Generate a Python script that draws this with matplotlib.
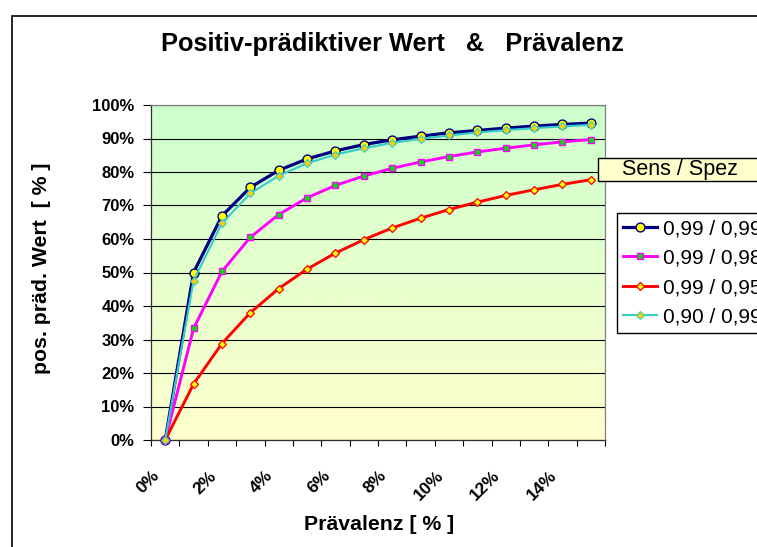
import numpy as np
import matplotlib
matplotlib.use('Agg')
import matplotlib.pyplot as plt
from matplotlib.patches import Rectangle
from matplotlib.colors import LinearSegmentedColormap

plt.rcParams['font.family'] = ['Liberation Sans', 'DejaVu Sans']

# Prävalenz 0 % .. 15 %, eine Kategorie pro Prozent
kategorien = ['0%', '1%', '2%', '3%', '4%', '5%', '6%', '7%',
              '8%', '9%', '10%', '11%', '12%', '13%', '14%', '15%']
x_labels = ['0%', '2%', '4%', '6%', '8%', '10%', '12%', '14%']
y_labels = ['0%', '10%', '20%', '30%', '40%', '50%', '60%', '70%', '80%', '90%', '100%']

# positiv-prädiktiver Wert (Anteil)
ppv_99_99 = [0.000, 0.500, 0.669, 0.754, 0.805, 0.839, 0.863, 0.882,
             0.896, 0.907, 0.917, 0.924, 0.931, 0.937, 0.942, 0.946]
ppv_99_98 = [0.000, 0.333, 0.503, 0.605, 0.673, 0.723, 0.760, 0.788,
             0.811, 0.830, 0.846, 0.860, 0.871, 0.881, 0.890, 0.897]
ppv_99_95 = [0.000, 0.167, 0.288, 0.380, 0.452, 0.510, 0.558, 0.598,
             0.633, 0.662, 0.688, 0.710, 0.730, 0.747, 0.763, 0.777]
ppv_90_99 = [0.000, 0.476, 0.647, 0.736, 0.789, 0.826, 0.852, 0.871,
             0.887, 0.899, 0.909, 0.918, 0.925, 0.931, 0.936, 0.941]

serien = [
    ('0,99 / 0,99', ppv_99_99, dict(color='#000080', lw=2.3, marker='o', ms=6.4,
                                    mfc='#FFFF00', mec='#000080', mew=1.0)),
    ('0,99 / 0,98', ppv_99_98, dict(color='#FF00FF', lw=2.1, marker='s', ms=4.6,
                                    mfc='#00E000', mec='#FF00FF', mew=1.0)),
    ('0,99 / 0,95', ppv_99_95, dict(color='#FF0000', lw=2.1, marker='D', ms=4.0,
                                    mfc='#FFFF00', mec='#FF0000', mew=0.9)),
    ('0,90 / 0,99', ppv_90_99, dict(color='#33CCCC', lw=1.5, marker='D', ms=3.8,
                                    mfc='#FFCC00', mec='#33CCCC', mew=0.8)),
]

W, H = 757, 547
fig = plt.figure(figsize=(W / 100, H / 100), dpi=100)
ax = fig.add_axes([151 / W, 1 - 440 / H, 454 / W, 335 / H])

# Hintergrundverlauf grün -> gelb
bg = LinearSegmentedColormap.from_list('bg', ['#CCFFCC', '#FFFFCC'])
ax.imshow(np.linspace(0, 1, 256).reshape(-1, 1), cmap=bg, extent=(0, 1, 0, 1),
          transform=ax.transAxes, aspect='auto', zorder=-1)

x = np.arange(len(kategorien))
for name, werte, stil in serien:
    ax.plot(x, werte, label=name, zorder=3, clip_on=False, **stil)

ax.set_xlim(-0.5, len(kategorien) - 0.5)
ax.set_ylim(0, 1)

ax.set_yticks(np.linspace(0, 1, len(y_labels)))
ax.set_yticklabels(y_labels, fontsize=12, fontweight='bold')
ax.yaxis.grid(True, color='black', lw=0.8)
ax.set_axisbelow(True)

ax.set_xticks(np.arange(-0.5, len(kategorien), 1))
ax.set_xticklabels([])
ax.tick_params(axis='y', direction='out', length=5.8, width=0.8, pad=6)
ax.tick_params(axis='x', direction='out', length=4.3, width=0.8)

for i, lab in enumerate(x_labels):
    ax.text(2 * i - 0.28, -0.1, lab, transform=ax.get_xaxis_transform(),
            rotation=45, ha='right', va='center', rotation_mode='anchor',
            fontsize=12.5, fontweight='bold')

for s in ['top', 'right']:
    ax.spines[s].set_color('#808080')
for s in ['left', 'bottom']:
    ax.spines[s].set_color('#303030')
for s in ax.spines.values():
    s.set_linewidth(0.9)

fig.text(392 / W, 1 - 51 / H, 'Positiv-prädiktiver Wert   &   Prävalenz',
         ha='center', va='baseline', fontsize=18.3, fontweight='bold')
fig.text(379 / W, 1 - 530 / H, 'Prävalenz [ % ]', ha='center', va='baseline',
         fontsize=15.3, fontweight='bold')
fig.text(42 / W, 1 - 268 / H, 'pos. präd. Wert  [ % ]', ha='center', va='center',
         rotation=90, fontsize=15.3, fontweight='bold')

leg = ax.legend(loc='upper left', bbox_to_anchor=(617 / W, 1 - 213 / H),
                bbox_transform=fig.transFigure, fontsize=15, frameon=True,
                fancybox=False, edgecolor='black', framealpha=1,
                handlelength=1.6, handletextpad=0.3, borderpad=0.3,
                labelspacing=0.5, borderaxespad=0)
leg.get_frame().set_linewidth(1.0)

# Kasten "Sens / Spez"
fig.add_artist(Rectangle((598 / W, 1 - 181 / H), 200 / W, 23 / H,
                         transform=fig.transFigure, fc='#FFFFCC', ec='black',
                         lw=1.0, zorder=5, clip_on=False))
fig.text(622 / W, 1 - 170 / H, 'Sens / Spez', ha='left', va='center',
         fontsize=15.5, zorder=6)

# Rahmen des Diagramms
fig.add_artist(Rectangle((12 / W, -0.1), 1.2, 1.1 - 16 / H,
                         transform=fig.transFigure, fill=False, ec='black',
                         lw=1.2, clip_on=False))

fig.savefig('out.png', dpi=100)
